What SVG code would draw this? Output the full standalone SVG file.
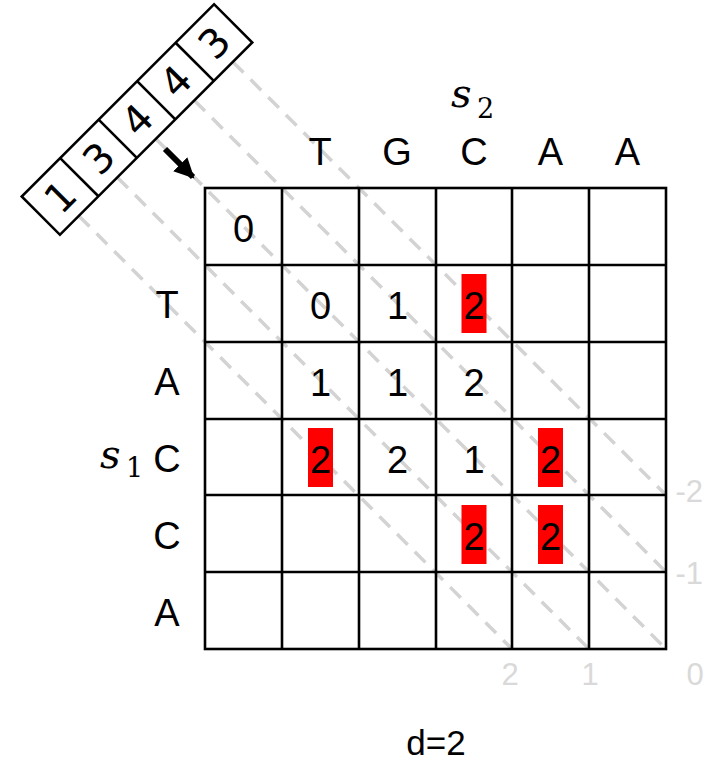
<svg xmlns="http://www.w3.org/2000/svg" width="706" height="763" viewBox="0 0 706 763">
<style>
.g{fill:none;stroke:#000;stroke-width:2.6}
.d{fill:none;stroke:#d3d3d3;stroke-width:3.5;stroke-dasharray:15 10}
.t{font-family:"Liberation Sans",Arial,sans-serif;font-size:38px;text-anchor:middle;fill:#000}
.c{font-family:"Liberation Sans",Arial,sans-serif;font-size:35px;text-anchor:middle;fill:#000}
.b{font-family:"DejaVu Sans",sans-serif;font-size:40px;text-anchor:middle;fill:#000}
.l{font-family:"Liberation Sans",Arial,sans-serif;font-size:31px;fill:#d9d9d9}
.s{font-family:"DejaVu Serif","Liberation Serif",serif;font-style:italic;font-size:40px;fill:#000}
.sub{font-family:"DejaVu Serif","Liberation Serif",serif;font-size:27px;fill:#000}
.r{fill:#ff0000}
</style>
<defs>
<marker id="ah" markerUnits="userSpaceOnUse" markerWidth="24" markerHeight="24" refX="18" refY="10" orient="auto">
<path d="M0,0 L20,10 L0,20 Z" fill="#000"/>
</marker>
</defs>
<g id="connectors">
<line class="d" x1="78.9" y1="215.9" x2="512" y2="649"/>
<line class="d" x1="117.4" y1="177.4" x2="589" y2="649"/>
<line class="d" x1="155.9" y1="138.9" x2="666" y2="649"/>
<line class="d" x1="194.4" y1="100.4" x2="666" y2="572"/>
<line class="d" x1="232.9" y1="61.9" x2="666" y2="495"/>
<line x1="165" y1="149" x2="193" y2="177" stroke="#000" stroke-width="6" marker-end="url(#ah)"/>
</g>
<g id="sequence-box" transform="translate(137,119.5) rotate(-45)">
<rect class="g" x="-136" y="-27" width="272" height="54"/>
<line class="g" x1="-81.6" y1="-27" x2="-81.6" y2="27"/>
<line class="g" x1="-27.2" y1="-27" x2="-27.2" y2="27"/>
<line class="g" x1="27.2" y1="-27" x2="27.2" y2="27"/>
<line class="g" x1="81.6" y1="-27" x2="81.6" y2="27"/>
<text class="b" x="-108.8" y="14.5">1</text>
<text class="b" x="-54.4" y="14.5">3</text>
<text class="b" x="0" y="14.5">4</text>
<text class="b" x="54.4" y="14.5">4</text>
<text class="b" x="108.8" y="14.5">3</text>
</g>
<g id="grid">
<rect class="g" x="205" y="188" width="461" height="461"/>
<line class="g" x1="282" y1="188" x2="282" y2="649"/>
<line class="g" x1="359" y1="188" x2="359" y2="649"/>
<line class="g" x1="436" y1="188" x2="436" y2="649"/>
<line class="g" x1="512" y1="188" x2="512" y2="649"/>
<line class="g" x1="589" y1="188" x2="589" y2="649"/>
<line class="g" x1="205" y1="265" x2="666" y2="265"/>
<line class="g" x1="205" y1="342" x2="666" y2="342"/>
<line class="g" x1="205" y1="419" x2="666" y2="419"/>
<line class="g" x1="205" y1="495" x2="666" y2="495"/>
<line class="g" x1="205" y1="572" x2="666" y2="572"/>
</g>
<g id="highlights">
<rect class="r" x="461.5" y="274" width="25" height="59"/>
<rect class="r" x="308" y="428" width="25" height="59"/>
<rect class="r" x="538" y="428" width="25" height="59"/>
<rect class="r" x="461.5" y="505" width="25" height="59"/>
<rect class="r" x="538" y="505" width="25" height="59"/>
</g>
<g id="cell-values">
<text class="t" x="243.5" y="242">0</text>
<text class="t" x="320.5" y="319">0</text>
<text class="t" x="397.5" y="319">1</text>
<text class="t" x="474" y="319">2</text>
<text class="t" x="320.5" y="396">1</text>
<text class="t" x="397.5" y="396">1</text>
<text class="t" x="474" y="396">2</text>
<text class="t" x="320.5" y="473">2</text>
<text class="t" x="397.5" y="473">2</text>
<text class="t" x="474" y="473">1</text>
<text class="t" x="550.5" y="473">2</text>
<text class="t" x="474" y="550">2</text>
<text class="t" x="550.5" y="550">2</text>
</g>
<g id="column-labels">
<text class="t" x="320" y="165">T</text>
<text class="t" x="397" y="165">G</text>
<text class="t" x="474" y="165">C</text>
<text class="t" x="550.5" y="165">A</text>
<text class="t" x="627.5" y="165">A</text>
<text class="s" x="451" y="107">s</text>
<text class="sub" x="477" y="118">2</text>
</g>
<g id="row-labels">
<text class="t" x="167" y="318">T</text>
<text class="t" x="167" y="395">A</text>
<text class="t" x="167" y="472">C</text>
<text class="t" x="167" y="549">C</text>
<text class="t" x="167" y="626">A</text>
<text class="s" x="100" y="468">s</text>
<text class="sub" x="126" y="477">1</text>
</g>
<g id="diagonal-labels">
<text class="l" x="703" y="502" text-anchor="end">-2</text>
<text class="l" x="703" y="584" text-anchor="end">-1</text>
<text class="l" x="510" y="685" text-anchor="middle">2</text>
<text class="l" x="590" y="685" text-anchor="middle">1</text>
<text class="l" x="695" y="685" text-anchor="middle">0</text>
</g>
<text id="caption" class="c" x="436" y="755">d=2</text>
</svg>
